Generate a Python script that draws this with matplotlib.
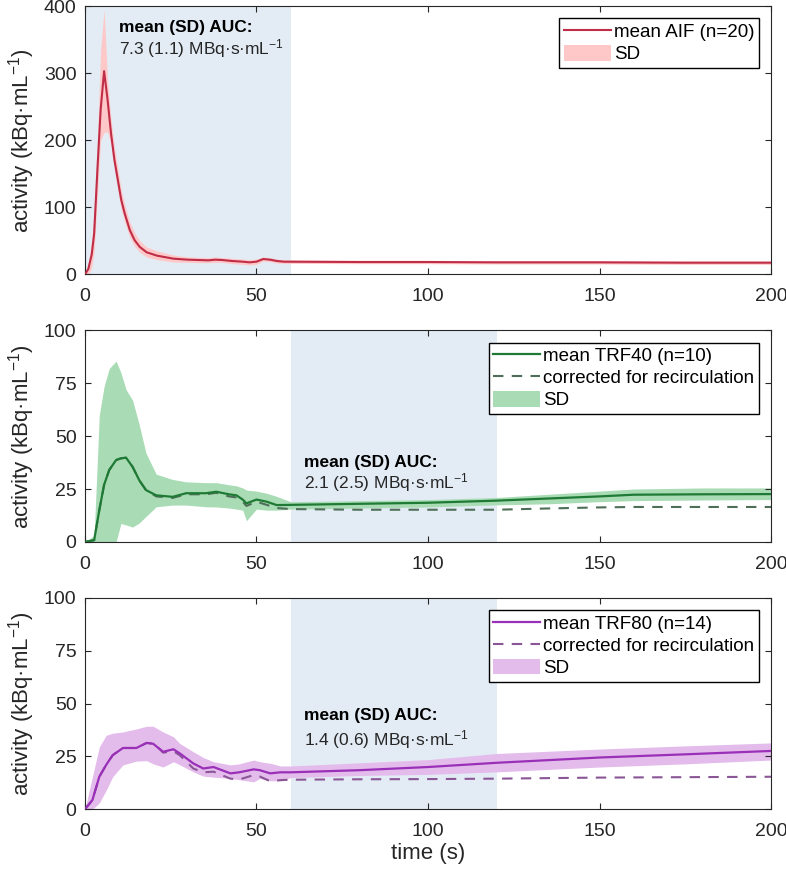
import numpy as np
import matplotlib
matplotlib.use("Agg")
import matplotlib.pyplot as plt

plt.rcParams['font.family'] = ['Liberation Sans', 'DejaVu Sans']
plt.rcParams['mathtext.default'] = 'regular'

# panel 1: arterial input function
t_aif = [0, 1, 2, 2.7, 3.7, 4.6, 5.6, 6.6, 7.6, 8.6, 9.6, 10.6, 11.6, 13.1, 14.5, 16, 18, 21, 25.8,
         30, 33, 36, 38, 40, 43, 46, 48, 50, 52, 54, 56, 58, 60, 80, 100, 120, 150, 175, 200]
aif_mean = [0, 8, 30, 61, 161, 246, 303, 261, 211, 171, 141, 111, 91, 66, 51, 41, 33, 28, 23.5,
            22, 21.5, 21, 22, 21.5, 20, 19, 18, 19, 23, 22, 20, 19, 19, 18.5, 18.5, 18, 18, 17.5, 17.5]
aif_hi = [0, 18, 50, 95, 210, 335, 395, 290, 232, 190, 158, 126, 104, 78, 62, 50, 41, 35, 29,
          26, 25.5, 25, 26, 25, 24, 23, 22, 23, 26, 25, 23, 22, 21.5, 21, 21, 20.5, 20.5, 20, 20]
aif_lo = [0, 0, 10, 35, 120, 200, 212, 212, 195, 155, 125, 97, 78, 55, 42, 33, 26, 22, 18.5,
          18, 17.5, 17.5, 18, 18, 16, 15, 14, 15, 20, 19, 17, 16.5, 16.5, 16, 16, 15.5, 15.5, 15, 15]

# panel 2: TRF40
t_40 = [0, 2.7, 4.2, 5.6, 7.1, 9.1, 10.5, 12, 13.9, 15.9, 17.8, 20.8, 25.6, 29.5, 35.3, 38.3, 42,
        44.2, 46, 47.1, 50, 53, 55.9, 60, 80, 100, 120, 135, 150, 160, 180, 200]
trf40_mean = [0, 0.8, 15, 27, 34, 38.7, 39.5, 39.8, 35.5, 29, 24.5, 22, 21.3, 23, 23, 23.7, 22.5,
              22, 20, 18.2, 20, 19, 17.4, 17.5, 18, 18.5, 19.5, 20.5, 21.5, 22.3, 22.5, 22.6]
trf40_corr = [0, 0.8, 15, 27, 34, 38.7, 39.5, 39.8, 35.5, 29, 24.5, 21.5, 20.8, 22.5, 22.5, 23.2, 21.5,
              21, 19, 17, 19, 17.5, 16, 15.5, 15.2, 15.2, 15.2, 15.8, 16.3, 16.5, 16.5, 16.5]
trf40_hi = [0, 3, 60, 73.5, 82, 85.5, 80, 72, 67, 55, 42, 32, 29.5, 28.4, 28, 28, 27,
            26.5, 25.5, 24.5, 24, 23, 21.5, 19, 19.5, 20, 21, 22.5, 24, 25, 25.5, 25.5]
trf40_lo = [0, 0, 0, 0, 0, 0, 8.7, 8, 7, 9, 12, 16.6, 17.4, 17.4, 16.6, 16.5, 16,
            15.5, 15, 10, 15.5, 15, 15, 15.5, 16, 16.5, 17.5, 18, 19, 19.5, 19.8, 20]

# panel 3: TRF80
t_80 = [0, 2.2, 4.2, 6.2, 8.1, 11.1, 15, 18, 19.9, 21.8, 22.8, 25.8, 27.7, 31.6, 34.5, 37.5, 42.4,
        45, 49.2, 51, 54, 57, 60, 80, 100, 120, 150, 175, 200]
trf80_mean = [0, 4.4, 15.4, 21, 25.6, 29, 29, 31.4, 31, 28.5, 27.2, 28.4, 26.4, 21.7, 19.3, 20, 17,
              17.5, 18.9, 18.5, 17, 17.5, 17.5, 18.5, 20, 22, 24.5, 26, 27.6]
trf80_corr = [0, 4.4, 15.4, 21, 25.6, 29, 29, 31.4, 31, 28.5, 26.8, 27.5, 25.5, 19.3, 17.5, 17.8, 14.5,
              14.1, 16.2, 15.5, 13.3, 13.8, 14, 14.2, 14.3, 14.5, 15, 15.2, 15.4]
trf80_hi = [0, 15.4, 29.5, 35, 36, 36.6, 38, 39.3, 39.3, 37.5, 36.6, 34.3, 31.1, 27.2, 24.5, 22.5, 21,
            21.5, 23.3, 22.5, 21.8, 20.5, 20.5, 22, 23.5, 26.4, 28.5, 30, 31.4]
trf80_lo = [0, 0, 3, 9, 15.4, 21, 22.8, 23, 21.5, 20.5, 20, 22.5, 21, 17.7, 15.7, 15.2, 14.6,
            14, 13, 14.6, 13.5, 13.5, 15, 16, 16.5, 17.7, 20, 21.5, 23.3]

auc_text = ["7.3 (1.1) MBq·s·mL$^{-1}$", "2.1 (2.5) MBq·s·mL$^{-1}$", "1.4 (0.6) MBq·s·mL$^{-1}$"]

fig = plt.figure(figsize=(7.86, 8.74), dpi=100)
ax1 = fig.add_axes([0.108, 0.686, 0.873, 0.307])
ax2 = fig.add_axes([0.108, 0.380, 0.873, 0.242])
ax3 = fig.add_axes([0.108, 0.074, 0.873, 0.242])

shade = '#e3ecf5'
txt = '#262626'

def style(ax, ymax, ystep):
    ax.set_xlim(0, 200)
    ax.set_ylim(0, ymax)
    ax.set_xticks(np.arange(0, 201, 50))
    ax.set_yticks(np.arange(0, ymax + 1, ystep))
    ax.tick_params(direction='in', top=True, right=True, labelsize=14, colors=txt,
                   length=4, width=0.8, pad=6)
    ax.tick_params(axis='x', pad=10)
    for s in ax.spines.values():
        s.set_color(txt)
        s.set_linewidth(0.8)
    ax.set_ylabel('activity (kBq·mL$^{-1}$)', fontsize=16, color=txt)
    ax.yaxis.set_label_coords(-0.07, 0.5)

def legend(ax, order):
    h, l = ax.get_legend_handles_labels()
    ax.legend([h[i] for i in order], [l[i] for i in order], loc='upper right', fontsize=13.5,
              fancybox=False, edgecolor='black', framealpha=1, handlelength=2.5,
              handleheight=0.9, handletextpad=0.15, borderpad=0.25, labelspacing=0.2,
              borderaxespad=0.65)

def auc(ax, x, y1, y2, s):
    ax.text(x, y1, 'mean (SD) AUC:', fontsize=12.5, fontweight='bold', va='baseline')
    ax.text(x, y2, s, fontsize=12.5, va='baseline', color=txt)

# AIF
ax1.axvspan(0, 60, color=shade, lw=0, zorder=0)
ax1.fill_between(t_aif, aif_lo, aif_hi, color='#ffc8c8', lw=0, label='SD', zorder=1)
ax1.plot(t_aif, aif_mean, color='#bf2d47', lw=1.5, label='mean AIF (n=20)', zorder=3)
style(ax1, 400, 100)
auc(ax1, 10, 362, 328, auc_text[0])
legend(ax1, [1, 0])

# TRF40
ax2.axvspan(60, 120, color=shade, lw=0, zorder=0)
ax2.fill_between(t_40, trf40_lo, trf40_hi, color='#a9dcb5', lw=0, label='SD', zorder=1)
ax2.plot(t_40, trf40_corr, color='#4e6e58', lw=1.5, ls=(0, (5, 4)),
         label='corrected for recirculation', zorder=2)
ax2.plot(t_40, trf40_mean, color='#1f7a35', lw=1.6, label='mean TRF40 (n=10)', zorder=3)
style(ax2, 100, 25)
auc(ax2, 64, 35.5, 25.4, auc_text[1])
legend(ax2, [2, 1, 0])

# TRF80
ax3.axvspan(60, 120, color=shade, lw=0, zorder=0)
ax3.fill_between(t_80, trf80_lo, trf80_hi, color='#e3bcec', lw=0, label='SD', zorder=1)
ax3.plot(t_80, trf80_corr, color='#8a5696', lw=1.5, ls=(0, (5, 4)),
         label='corrected for recirculation', zorder=2)
ax3.plot(t_80, trf80_mean, color='#9a2fb8', lw=1.6, label='mean TRF80 (n=14)', zorder=3)
style(ax3, 100, 25)
auc(ax3, 64, 42, 30.3, auc_text[2])
legend(ax3, [2, 1, 0])
ax3.set_xlabel('time (s)', fontsize=16, color=txt, labelpad=2)

fig.savefig('out.png', dpi=100)
